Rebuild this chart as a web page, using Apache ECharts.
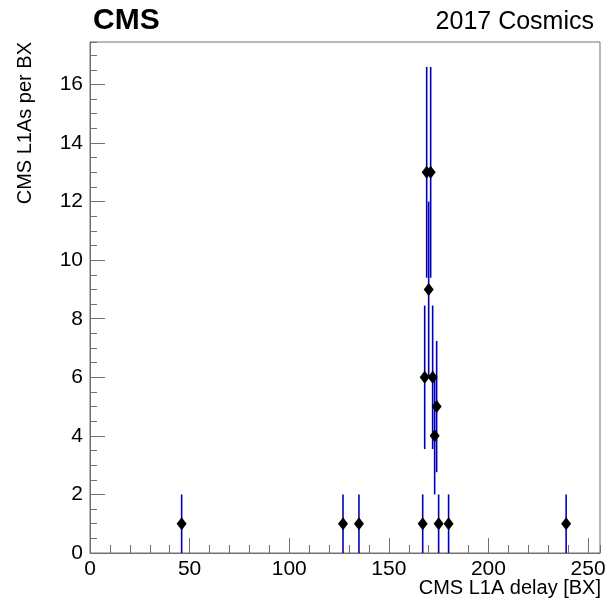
<!DOCTYPE html>
<html>
<head>
<meta charset="utf-8">
<script src="https://cdn.jsdelivr.net/npm/echarts@6/dist/echarts.min.js"></script>
<style>
    html, body { margin: 0; background: #fff; }
    #container { width: 616px; height: 602px; }
</style>
</head>
<body>
<div id="container"></div>
<script>
    // bin centres (BX) and entries per bin
    var delayBX = [46, 127, 135, 167, 168, 169, 170, 171, 172, 173, 174, 175, 180, 239];
    var counts  = [1, 1, 1, 1, 6, 13, 9, 13, 6, 4, 5, 1, 1, 1];
    // error bar half heights
    var errors  = [1, 1, 1, 1, 2.45, 3.6, 3, 3.6, 2.45, 2, 2.24, 1, 1, 1];

    var FONT = '"Liberation Sans", Arial, Helvetica, sans-serif';
    var AXIS_COL = '#707070';

    var points = [];
    var bars = [];
    for (var i = 0; i < delayBX.length; i++) {
        points.push([delayBX[i], counts[i]]);
        bars.push([delayBX[i], counts[i] - errors[i], counts[i] + errors[i]]);
    }

    var option = {
        animation: false,
        grid: {
            left: 90, right: 16, top: 42, bottom: 49,
            show: true, borderColor: AXIS_COL, borderWidth: 1
        },
        title: [
            { text: 'CMS', left: 88, top: 1, textStyle: { fontFamily: FONT, fontWeight: 'bold', fontSize: 30, color: '#000' } },
            { text: '2017 Cosmics', right: 17, top: 5, textStyle: { fontFamily: FONT, fontWeight: 'normal', fontSize: 25, color: '#000' } }
        ],
        graphic: [
            { type: 'text', x: 601, y: 578, style: { text: 'CMS L1A delay [BX]', font: '20px ' + FONT, fill: '#000', textAlign: 'right', textVerticalAlign: 'top' } },
            { type: 'text', x: 25, y: 42, rotation: Math.PI / 2, style: { text: 'CMS L1As per BX', font: '20px ' + FONT, fill: '#000', textAlign: 'right', textVerticalAlign: 'middle' } }
        ],
        xAxis: [
            {
                type: 'value', min: 0, max: 256, interval: 50,
                axisLine: { show: true, lineStyle: { color: AXIS_COL } },
                axisTick: { show: true, inside: true, length: 15, lineStyle: { color: AXIS_COL } },
                axisLabel: { margin: 6, showMaxLabel: false, fontFamily: FONT, fontSize: 21, color: '#000' },
                splitLine: { show: false }
            },
            {
                type: 'value', min: 0, max: 256, interval: 10, position: 'bottom',
                axisLine: { show: false },
                axisTick: { show: true, inside: true, length: 8, lineStyle: { color: AXIS_COL } },
                axisLabel: { show: false },
                splitLine: { show: false }
            }
        ],
        yAxis: [
            {
                type: 'value', min: 0, max: 17.45, interval: 2,
                axisLine: { show: true, lineStyle: { color: AXIS_COL } },
                axisTick: { show: true, inside: true, length: 15, lineStyle: { color: AXIS_COL } },
                axisLabel: { margin: 7, showMaxLabel: false, fontFamily: FONT, fontSize: 21, color: '#000' },
                splitLine: { show: false }
            },
            {
                type: 'value', min: 0, max: 17.45, interval: 0.5, position: 'left',
                axisLine: { show: false },
                axisTick: { show: true, inside: true, length: 7, lineStyle: { color: AXIS_COL } },
                axisLabel: { show: false },
                splitLine: { show: false }
            }
        ],
        series: [
            {
                type: 'custom',
                xAxisIndex: 0, yAxisIndex: 0,
                clip: true,
                renderItem: function (params, api) {
                    var lo = api.coord([api.value(0), api.value(1)]);
                    var hi = api.coord([api.value(0), api.value(2)]);
                    return {
                        type: 'line',
                        shape: { x1: lo[0], y1: lo[1], x2: hi[0], y2: hi[1] },
                        style: { stroke: '#0000b8', lineWidth: 1.6 }
                    };
                },
                encode: { x: 0, y: [1, 2] },
                data: bars,
                z: 2
            },
            {
                type: 'scatter',
                xAxisIndex: 0, yAxisIndex: 0,
                symbol: 'diamond',
                symbolSize: [10, 13],
                itemStyle: { color: '#000', opacity: 1 },
                data: points,
                z: 3
            }
        ]
    };

    var myChart = echarts.init(document.getElementById('container'));
    myChart.setOption(option);
</script>
</body>
</html>
